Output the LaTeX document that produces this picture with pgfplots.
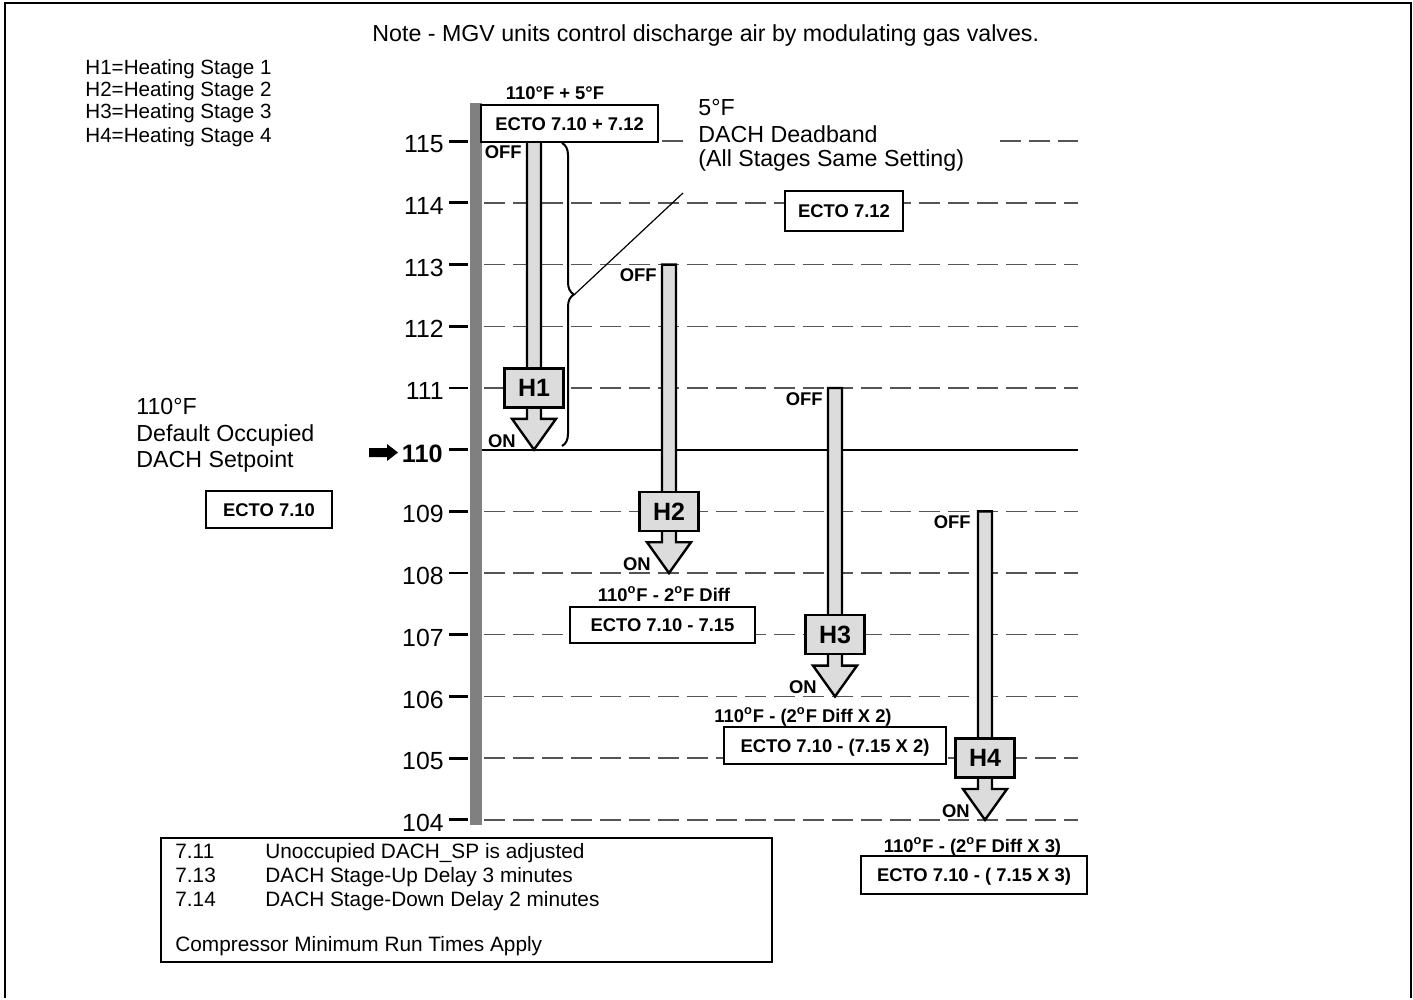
\documentclass[border=0pt]{standalone}
\usepackage{pgfplots}
\pgfplotsset{compat=1.18}
\usepackage{fontspec}
\setmainfont{Liberation Sans}
\usetikzlibrary{decorations.pathreplacing}
\definecolor{arrowfill}{HTML}{DCDCDC}
\definecolor{bargray}{HTML}{808080}
\definecolor{gridgray}{HTML}{555555}
\newcommand{\fs}[1]{\fontsize{#1}{#1}\selectfont}
\newcommand{\pbox}[5]{%
  \draw[line width=1.1pt, fill=white] (#1,#2) rectangle (#3,#4);
  \node[font=\fs{9.2}\bfseries, inner sep=0, anchor=base] at ({(#1+#3)/2},{(#2+#4)/2+6.6}) {#5};}
\begin{document}
\begin{tikzpicture}
\begin{axis}[at={(0,0)}, anchor=north west, scale only axis,
  width=706.5pt, height=499pt,
  xmin=0, xmax=1413, ymin=101.113, ymax=117.288,
  hide axis, clip=false]
% dashed reference lines
\pgfplotsinvokeforeach{104,105,106,107,108,109,111,112,113,114}{
  \draw[gridgray, line width=0.7pt, dash pattern=on 10.5pt off 4pt] (axis cs:484,#1) -- (axis cs:1078,#1);
}
\draw[gridgray, line width=0.7pt, dash pattern=on 10.5pt off 4pt] (axis cs:662,115) -- (axis cs:690,115);
\draw[gridgray, line width=0.7pt, dash pattern=on 10.5pt off 4pt] (axis cs:1000,115) -- (axis cs:1078,115);
\draw[black, line width=1pt] (axis cs:482,110) -- (axis cs:1078,110);
% ticks and labels
\pgfplotsinvokeforeach{104,105,106,107,108,109,110,111,112,113,114,115}{
  \draw[line width=1.4pt] (axis cs:449,#1) -- (axis cs:468,#1);
}
\pgfplotsinvokeforeach{104,105,106,107,108,109,111,112,113,114,115}{
  \node[anchor=base east, inner sep=0, yshift=-5.8pt, font=\fs{12.4}] at (axis cs:444,#1) {#1};
}
\node[anchor=base east, inner sep=0, yshift=-6.5pt, font=\fs{12.6}\bfseries] at (axis cs:443,110) {110};
% stage arrows: OFF level -> ON level
\addplot[draw=black, line width=1.2pt, fill=arrowfill] coordinates {(527,115) (527,110.5) (512,110.5) (534,110) (556,110.5) (541,110.5) (541,115)} -- cycle;
\addplot[draw=black, line width=1.2pt, fill=arrowfill] coordinates {(662,113) (662,108.5) (647,108.5) (669,108) (691,108.5) (676,108.5) (676,113)} -- cycle;
\addplot[draw=black, line width=1.2pt, fill=arrowfill] coordinates {(828,111) (828,106.5) (813,106.5) (835,106) (857,106.5) (842,106.5) (842,111)} -- cycle;
\addplot[draw=black, line width=1.2pt, fill=arrowfill] coordinates {(978,109) (978,104.5) (963,104.5) (985,104) (1007,104.5) (992,104.5) (992,109)} -- cycle;
\tikzset{hbox/.style={draw, line width=1.2pt, fill=arrowfill, minimum width=29.5pt, minimum height=19.5pt, inner sep=0, font=\fs{12.5}\bfseries},
  lab/.style={anchor=east, inner sep=0, font=\fs{9.2}\bfseries}}
\node[hbox] at (axis cs:534,111) {H1};
\node[hbox] at (axis cs:669,109) {H2};
\node[hbox] at (axis cs:835,107) {H3};
\node[hbox] at (axis cs:985,105) {H4};
\node[lab, yshift=-5.5pt] at (axis cs:522,115) {OFF};
\node[lab, yshift=-5.5pt] at (axis cs:657,113) {OFF};
\node[lab, yshift=-5.5pt] at (axis cs:823,111) {OFF};
\node[lab, yshift=-5.5pt] at (axis cs:971,109) {OFF};
\node[lab, yshift=4.5pt] at (axis cs:516,110) {ON};
\node[lab, yshift=4.5pt] at (axis cs:651,108) {ON};
\node[lab, yshift=4.5pt] at (axis cs:817,106) {ON};
\node[lab, yshift=4.5pt] at (axis cs:970,104) {ON};
\end{axis}
\begin{scope}[x=0.5pt, y=-0.5pt]
\path (0,0) rectangle (1413,998);
\draw[line width=1.2pt] (5,998) -- (5,3) -- (1411,3) -- (1411,998);
\fill[bargray] (470,103) rectangle (482,825);
% title note
\node[anchor=base west, inner sep=0, font=\fs{11.6}] at (372,42) {Note - MGV units control discharge air by modulating gas valves.};
% legend list
\node[anchor=base west, inner sep=0, font=\fs{10.3}] at (85,75) {H1=Heating Stage 1};
\node[anchor=base west, inner sep=0, font=\fs{10.3}] at (85,97) {H2=Heating Stage 2};
\node[anchor=base west, inner sep=0, font=\fs{10.3}] at (85,119) {H3=Heating Stage 3};
\node[anchor=base west, inner sep=0, font=\fs{10.3}] at (85,143) {H4=Heating Stage 4};
% deadband note
\node[anchor=base west, inner sep=0, font=\fs{11.6}] at (698,116) {5°F};
\node[anchor=base west, inner sep=0, font=\fs{11.6}] at (698,143) {DACH Deadband};
\node[anchor=base west, inner sep=0, font=\fs{11.6}] at (698,167) {(All Stages Same Setting)};
% setpoint note
\node[anchor=base west, inner sep=0, font=\fs{11.6}] at (136,415) {110°F};
\node[anchor=base west, inner sep=0, font=\fs{11.6}] at (136,442) {Default Occupied};
\node[anchor=base west, inner sep=0, font=\fs{11.6}] at (136,467) {DACH Setpoint};
\fill (369,448) -- (387,448) -- (387,444) -- (398,452.5) -- (387,461) -- (387,457) -- (369,457) -- cycle;
% brace
\draw[decorate, decoration={brace, amplitude=6pt}, line width=1pt] (562,143) -- (562,446);
\draw[line width=0.6pt] (575,294) -- (683,193);
% bold labels
\node[anchor=base, inner sep=0, font=\fs{9.2}\bfseries] at (555,100) {110°F + 5°F};
\node[anchor=base, inner sep=0, font=\fs{9.2}\bfseries] at (664,601) {110\textsuperscript{o}F - 2\textsuperscript{o}F Diff};
\node[anchor=base, inner sep=0, font=\fs{9.2}\bfseries] at (803,722) {110\textsuperscript{o}F - (2\textsuperscript{o}F Diff X 2)};
\node[anchor=base, inner sep=0, font=\fs{9.2}\bfseries] at (972.5,852) {110\textsuperscript{o}F - (2\textsuperscript{o}F Diff X 3)};
% boxes
\pbox{481}{105}{658}{142}{ECTO 7.10 + 7.12}
\pbox{785}{191}{903}{231}{ECTO 7.12}
\pbox{206}{491}{332}{528}{ECTO 7.10}
\pbox{570}{607}{755}{643}{ECTO 7.10 - 7.15}
\pbox{724}{727}{946}{764}{ECTO 7.10 - (7.15 X 2)}
\pbox{861}{856}{1087}{894}{ECTO 7.10 - ( 7.15 X 3)}
% bottom notes box
\draw[line width=1pt] (161,838) rectangle (772,962);
\node[anchor=base west, inner sep=0, font=\fs{10.4}] at (175,858) {7.11};
\node[anchor=base west, inner sep=0, font=\fs{10.4}] at (265,858) {Unoccupied DACH\_SP is adjusted};
\node[anchor=base west, inner sep=0, font=\fs{10.4}] at (175,882) {7.13};
\node[anchor=base west, inner sep=0, font=\fs{10.4}] at (265,882) {DACH Stage-Up Delay 3 minutes};
\node[anchor=base west, inner sep=0, font=\fs{10.4}] at (175,906) {7.14};
\node[anchor=base west, inner sep=0, font=\fs{10.4}] at (265,906) {DACH Stage-Down Delay 2 minutes};
\node[anchor=base west, inner sep=0, font=\fs{10.4}] at (175,951) {Compressor Minimum Run Times Apply};
\end{scope}
\end{tikzpicture}
\end{document}
